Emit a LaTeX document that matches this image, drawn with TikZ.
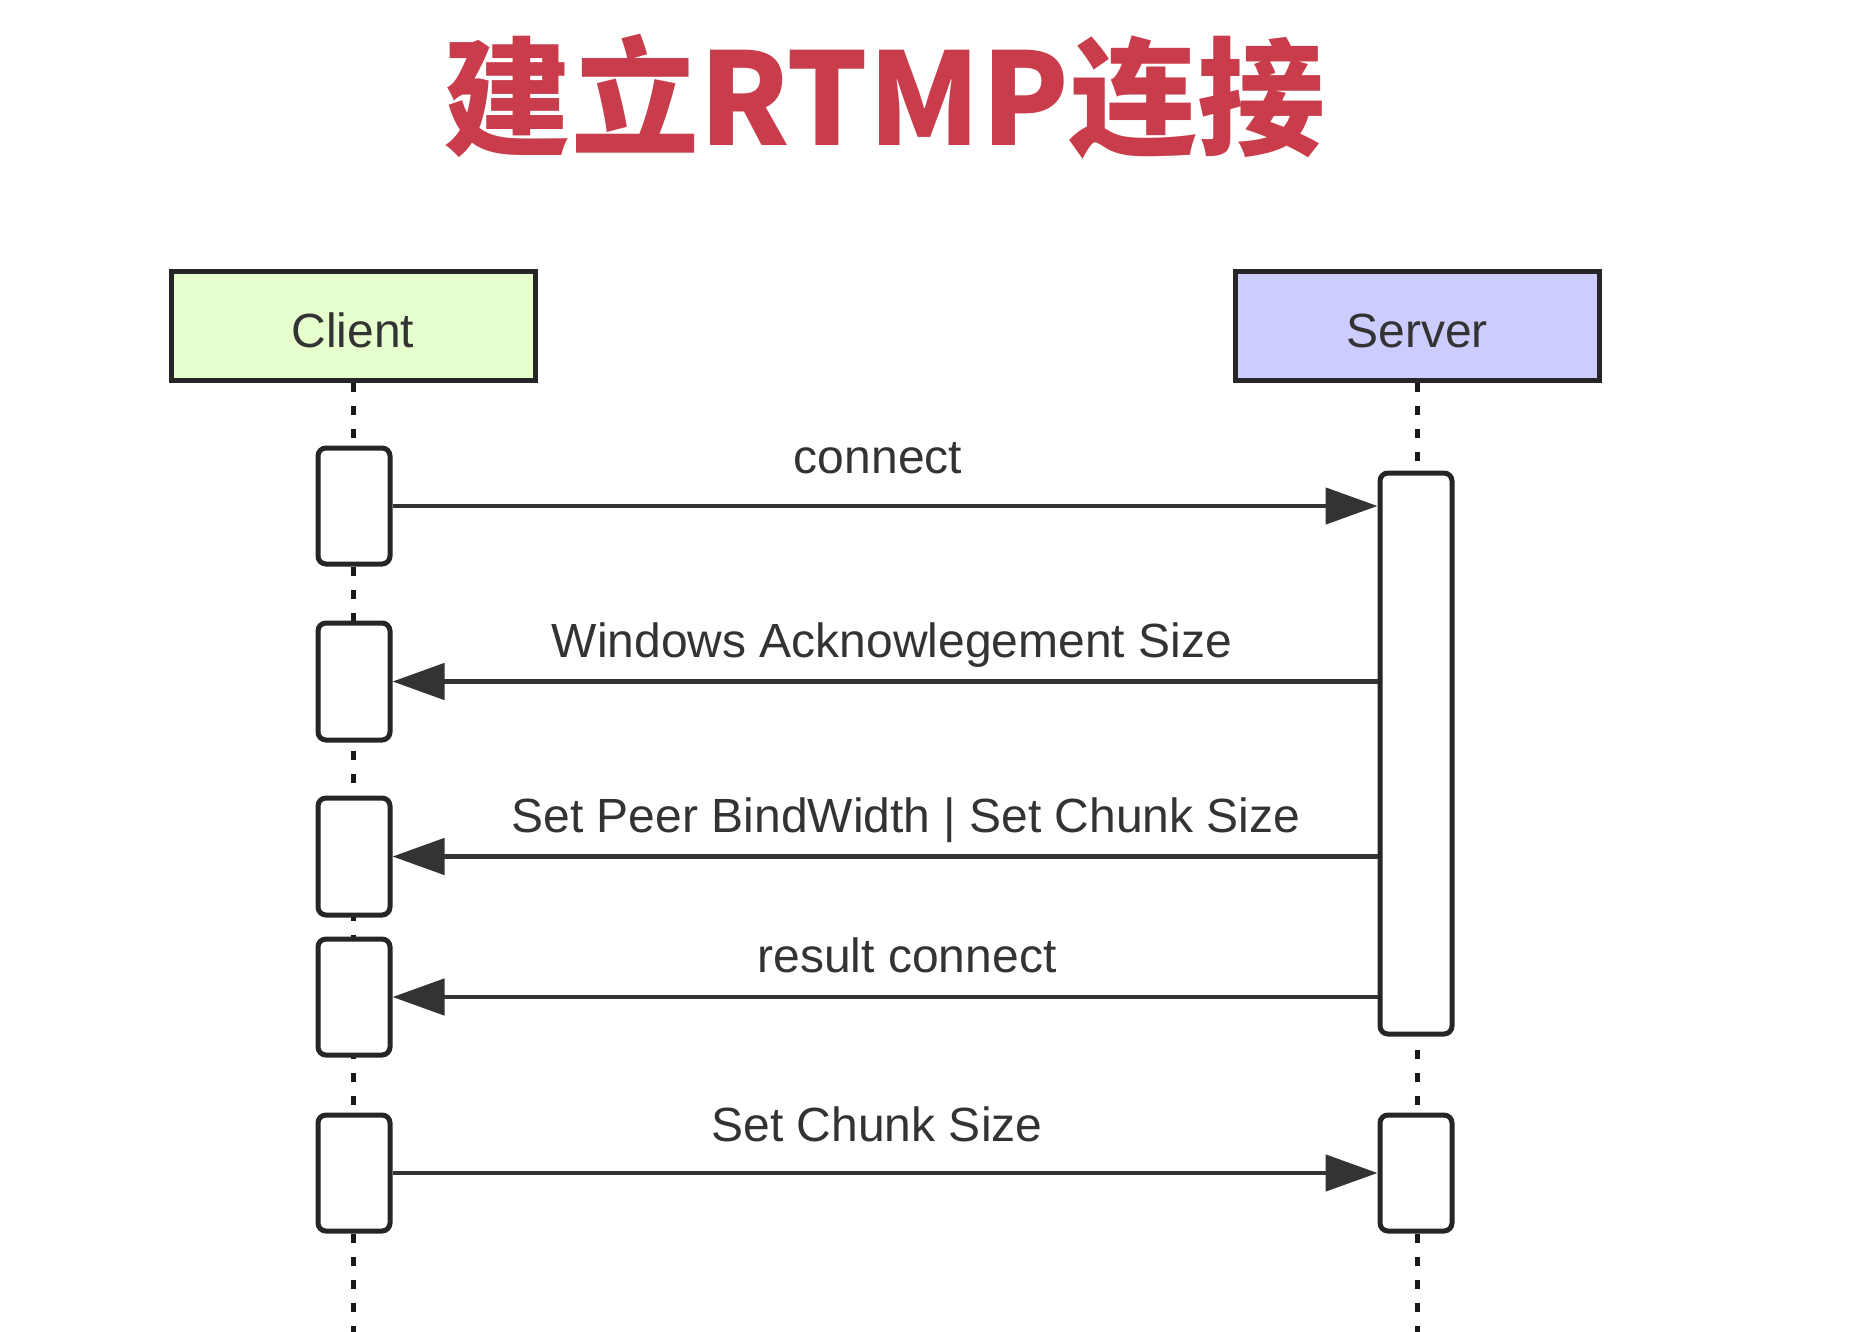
\documentclass[tikz,border=0pt]{standalone}
\usepackage{fontspec}
\setmainfont{Liberation Sans}
\newfontfamily\cjk{Noto Sans CJK SC}
\usetikzlibrary{arrows.meta}
\definecolor{txt}{HTML}{333333}
\definecolor{clientfill}{HTML}{E6FFCC}
\definecolor{serverfill}{HTML}{CCCCFF}
\definecolor{titlered}{HTML}{C83C4B}
\begin{document}
\begin{tikzpicture}[x=0.5pt,y=-0.5pt,
  hdr/.style={draw=black!85, line width=2.5pt, minimum width=182pt, minimum height=54pt, inner sep=0pt, font=\fontsize{24}{28}\selectfont, text=txt},
  act/.style={draw=black!85, fill=white, line width=2.5pt, rounded corners=4pt, minimum width=36pt, inner sep=0pt},
  life/.style={line width=2.5pt, dash pattern=on 4.5pt off 7pt, draw=black!90},
  msg/.style={line width=2.4pt, draw=txt, -{Triangle[length=26pt,width=18pt,fill=txt]}},
  lbl/.style={font=\fontsize{24}{28}\selectfont, text=txt, inner sep=0pt, anchor=base}
]
\useasboundingbox (0,0) rectangle (1874,1332);
\fill[white] (0,0) rectangle (1874,1332);

% title
\node[font=\cjk\bfseries\fontsize{64}{70}\selectfont, text=titlered, inner sep=0pt] (title) at (884,97) {建立RTMP连接};

% headers
\node[hdr, fill=clientfill] (cl) at (353,326) {};
\node[hdr, fill=serverfill] (sv) at (1417,326) {};
\node[lbl] (clt) at (353,348) {Client};
\node[lbl] (svt) at (1417,348) {Server};

\coordinate (bottom) at (0,1332);

% lifelines
\draw[life] (cl.south) -- (cl.south |- bottom);
\draw[life] (sv.south) -- (sv.south |- bottom);

% activation boxes
\node[act, minimum height=58pt] (c1) at (354,506) {};
\node[act, minimum height=58.5pt] (c2) at (354,681.5) {};
\node[act, minimum height=58.5pt] (c3) at (354,856.5) {};
\node[act, minimum height=58pt] (c4) at (354,997) {};
\node[act, minimum height=58pt] (c5) at (354,1173) {};
\node[act, minimum height=280.5pt] (s1) at (1416,753.5) {};
\node[act, minimum height=58pt] (s2) at (1416,1173) {};

% messages
\draw[msg] (c1.east) -- (s1.west |- c1.east);
\draw[msg] (s1.west |- c2.east) -- (c2.east);
\draw[msg] (s1.west |- c3.east) -- (c3.east);
\draw[msg] (s1.west |- c4.east) -- (c4.east);
\draw[msg] (c5.east) -- (s2.west);

% labels
\node[lbl] (l1) at (878,473) {connect};
\node[lbl] (l2) at (892,657) {Windows Acknowlegement Size};
\node[lbl] (l3) at (906,832) {Set Peer BindWidth | Set Chunk Size};
\node[lbl] (l4) at (907,972) {result connect};
\node[lbl] (l5) at (877,1141) {Set Chunk Size};
\end{tikzpicture}
\end{document}
